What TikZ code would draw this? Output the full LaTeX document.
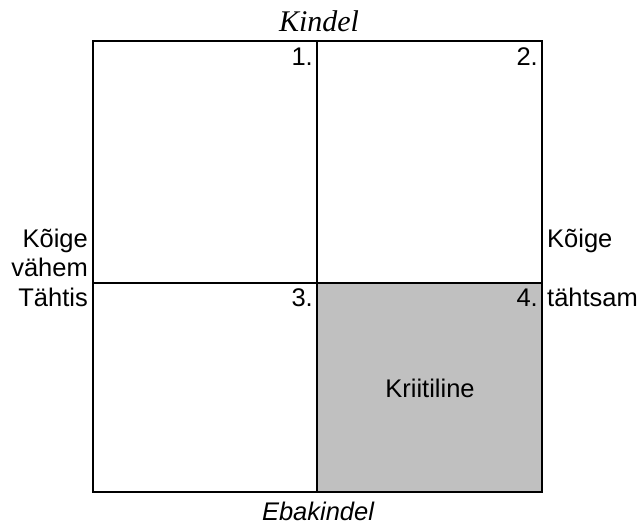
\documentclass[tikz,border=0pt]{standalone}
\usepackage{fontspec}
\setmainfont{Liberation Sans}
\newfontfamily\serifit{Liberation Serif}
\begin{document}
\begin{tikzpicture}[x=1pt,y=-1pt,
  grid/.style={line width=2pt},
  lbl/.style={font=\fontsize{25.5}{29}\selectfont, inner sep=0pt},
  num/.style={lbl, anchor=base east},
]
\useasboundingbox (0,0) rectangle (640,525);
\coordinate (tl) at (93,41);
\coordinate (tm) at (317,41);
\coordinate (tr) at (542,41);
\coordinate (ml) at (93,283);
\coordinate (mm) at (317,283);
\coordinate (mr) at (542,283);
\coordinate (bl) at (93,492);
\coordinate (bm) at (317,492);
\coordinate (br) at (542,492);
\fill[fill={rgb,255:red,192;green,192;blue,192}] (mm) rectangle (br);
\draw[grid] (tl) rectangle (br);
\draw[grid] (tm) -- (bm);
\draw[grid] (ml) -- (mr);
\node[lbl, anchor=base, font=\serifit\itshape\fontsize{30}{32}\selectfont] (kindel) at (319,31) {Kindel};
\node[lbl, anchor=base, font=\itshape\fontsize{25.5}{29}\selectfont] (ebakindel) at (318,520) {Ebakindel};
\node[num] (n1) at (313,65) {1.};
\node[num] (n2) at (538,65) {2.};
\node[num] (n3) at (313,306) {3.};
\node[num] (n4) at (538,306) {4.};
\node[lbl, anchor=base east] (l1) at (88,247) {Kõige};
\node[lbl, anchor=base east] (l2) at (88,276) {vähem};
\node[lbl, anchor=base east] (l3) at (88,306) {Tähtis};
\node[lbl, anchor=base west] (r1) at (547,247) {Kõige};
\node[lbl, anchor=base west] (r2) at (547,306) {tähtsam};
\node[lbl] (krit) at (430,388) {Kriitiline};
\end{tikzpicture}
\end{document}
